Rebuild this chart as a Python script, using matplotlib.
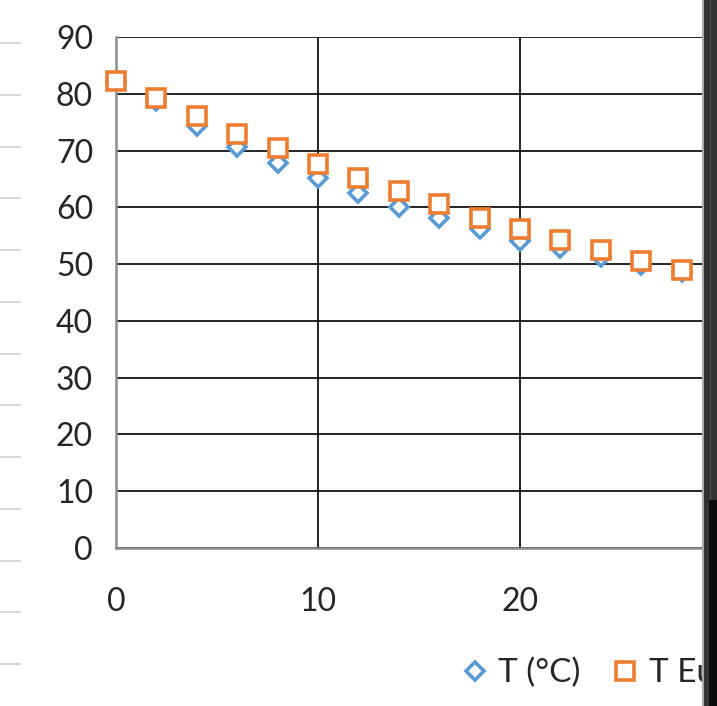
import matplotlib
matplotlib.use("Agg")
import matplotlib.pyplot as plt
from matplotlib.patches import Rectangle
from matplotlib.lines import Line2D

plt.rcParams['font.family'] = ['Lato', 'DejaVu Sans']

# Data
x_vals = [0, 2, 4, 6, 8, 10, 12, 14, 16, 18, 20, 22, 24, 26, 28]
t_measured = [82.3, 78.8, 74.3, 70.7, 67.8, 65.1, 62.5, 60.1, 58.2, 56.1, 54.1, 52.8, 51.2, 49.8, 48.6]
t_euler = [82.3, 79.3, 76.0, 73.0, 70.4, 67.7, 65.1, 62.8, 60.5, 58.2, 56.2, 54.2, 52.4, 50.6, 49.0]
series_names = ["T (°C)", "T Euler (°C)"]
x_ticks = [0, 10, 20]
y_ticks = [0, 10, 20, 30, 40, 50, 60, 70, 80, 90]

W, H = 717, 706
fig = plt.figure(figsize=(W / 100, H / 100), dpi=100)

left, right = 116 / W, 722 / W
bottom, top = 1 - 548 / H, 1 - 37 / H
ax = fig.add_axes([left, bottom, right - left, top - bottom])
ax.set_xlim(0, 30)
ax.set_ylim(0, 90)
ax.set_xticks(x_ticks)
ax.set_yticks(y_ticks)
ax.grid(True, color='black', linewidth=1.2)
ax.set_axisbelow(True)
for s in ['top', 'right']:
    ax.spines[s].set_visible(False)
ax.spines['left'].set_color('#8c8c8c')
ax.spines['left'].set_linewidth(1.8)
ax.spines['bottom'].set_color('#8c8c8c')
ax.spines['bottom'].set_linewidth(1.8)
ax.tick_params(axis='both', length=0, labelsize=23, colors='#262626')
ax.tick_params(axis='y', pad=16.5)
ax.tick_params(axis='x', pad=28)

blue = '#5B9BD5'
orange = '#ED7D31'
l1, = ax.plot(x_vals, t_measured, linestyle='none', marker='D', markersize=9.5,
              markerfacecolor='white', markeredgecolor=blue, markeredgewidth=2.6,
              label=series_names[0], zorder=3, clip_on=False)
l2, = ax.plot(x_vals, t_euler, linestyle='none', marker='s', markersize=12.5,
              markerfacecolor='white', markeredgecolor=orange, markeredgewidth=2.6,
              label=series_names[1], zorder=4, clip_on=False)

leg = fig.legend(handles=[l1, l2], loc='center left',
                 bbox_to_anchor=(463 / W, 1 - 673 / H), ncol=2, frameon=False,
                 fontsize=24, handlelength=0.7, handletextpad=0.35,
                 columnspacing=1.0, borderaxespad=0, borderpad=0,
                 labelcolor='#262626')

# spreadsheet row ticks at far left
for i in range(13):
    yy = 1 - (43 + 51.75 * i) / H
    fig.add_artist(Line2D([0, 20 / W], [yy, yy], color='#d0d0d0', linewidth=1.2,
                          transform=fig.transFigure))

# dark window edge at right
fig.add_artist(Rectangle((702 / W, 0), 2 / W, 1, transform=fig.transFigure,
                         facecolor='#a8a8a8', edgecolor='none', zorder=10))
fig.add_artist(Rectangle((704 / W, 0), 13 / W, 1, transform=fig.transFigure,
                         facecolor='#333333', edgecolor='none', zorder=10))
fig.add_artist(Rectangle((710 / W, 1 - 500 / H), 1.2 / W, 500 / H, transform=fig.transFigure,
                         facecolor='#555555', edgecolor='none', zorder=11))
fig.add_artist(Rectangle((709 / W, 0), 8 / W, 1 - 500 / H, transform=fig.transFigure,
                         facecolor='#0c0c0c', edgecolor='none', zorder=11))

fig.savefig('out.png', dpi=100)
